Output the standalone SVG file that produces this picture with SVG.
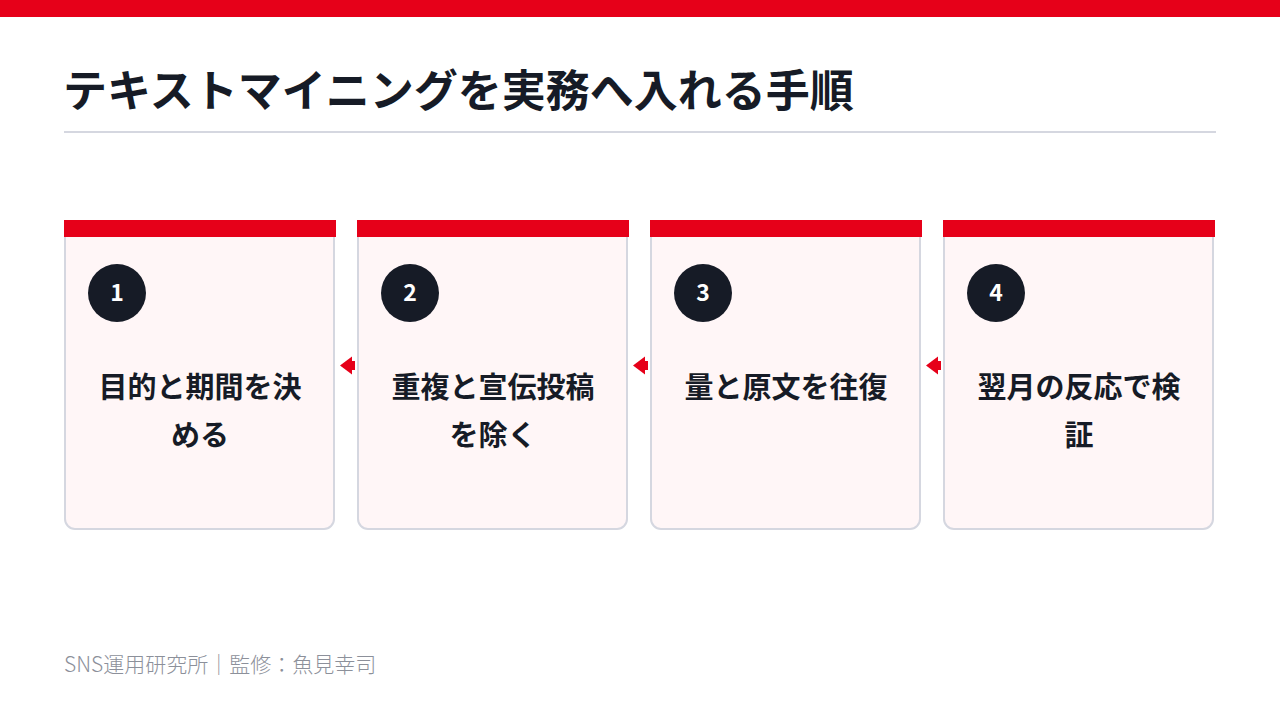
<svg xmlns="http://www.w3.org/2000/svg" width="1280" height="720" viewBox="0 0 1280 720">
<style>
.jp{font-family:"Noto Sans CJK JP","Noto Sans",sans-serif}
.title{font-size:44px;font-weight:700;fill:#161b26}
.card{fill:#fff6f7;stroke:#d5d7e0;stroke-width:2}
.bar{fill:#e60019}
.num{fill:#161b26}
.numt{font-size:23px;font-weight:700;fill:#ffffff;text-anchor:middle}
.lbl{font-size:29px;font-weight:700;fill:#161b26;text-anchor:middle}
.foot{font-size:21px;font-weight:300;fill:#8c909a}
.arr{fill:#e60019}
</style>
<rect x="0" y="0" width="1280" height="17" fill="#e60019"/>
<text class="jp title" x="63" y="88" dominant-baseline="central">テキストマイニングを実務へ入れる手順</text>
<rect x="64" y="131" width="1152" height="2" fill="#d5d7e0"/>
<g id="step1">
<path class="card" d="M65,221 H334 V519 A10,10 0 0 1 324,529 H75 A10,10 0 0 1 65,519 Z"/>
<rect class="bar" x="64" y="220" width="272" height="17"/>
<circle class="num" cx="117" cy="293" r="29"/>
<text class="jp numt" x="117" y="291" dominant-baseline="central">1</text>
<text class="jp lbl" x="200" y="385" dominant-baseline="central">目的と期間を決</text>
<text class="jp lbl" x="200" y="433" dominant-baseline="central">める</text>
</g>
<g id="step2">
<path class="card" d="M358,221 H627 V519 A10,10 0 0 1 617,529 H368 A10,10 0 0 1 358,519 Z"/>
<rect class="bar" x="357" y="220" width="272" height="17"/>
<circle class="num" cx="410" cy="293" r="29"/>
<text class="jp numt" x="410" y="291" dominant-baseline="central">2</text>
<text class="jp lbl" x="493" y="385" dominant-baseline="central">重複と宣伝投稿</text>
<text class="jp lbl" x="493" y="433" dominant-baseline="central">を除く</text>
</g>
<g id="step3">
<path class="card" d="M651,221 H920 V519 A10,10 0 0 1 910,529 H661 A10,10 0 0 1 651,519 Z"/>
<rect class="bar" x="650" y="220" width="272" height="17"/>
<circle class="num" cx="703" cy="293" r="29"/>
<text class="jp numt" x="703" y="291" dominant-baseline="central">3</text>
<text class="jp lbl" x="786" y="385" dominant-baseline="central">量と原文を往復</text>
</g>
<g id="step4">
<path class="card" d="M944,221 H1213 V519 A10,10 0 0 1 1203,529 H954 A10,10 0 0 1 944,519 Z"/>
<rect class="bar" x="943" y="220" width="272" height="17"/>
<circle class="num" cx="996" cy="293" r="29"/>
<text class="jp numt" x="996" y="291" dominant-baseline="central">4</text>
<text class="jp lbl" x="1079" y="385" dominant-baseline="central">翌月の反応で検</text>
<text class="jp lbl" x="1079" y="433" dominant-baseline="central">証</text>
</g>
<g id="connectors">
<polygon class="arr" points="340,365.5 352,356.5 352,374.5"/>
<rect class="arr" x="351" y="361" width="4" height="9"/>
<polygon class="arr" points="633,365.5 645,356.5 645,374.5"/>
<rect class="arr" x="644" y="361" width="4" height="9"/>
<polygon class="arr" points="926,365.5 938,356.5 938,374.5"/>
<rect class="arr" x="937" y="361" width="4" height="9"/>
</g>
<text class="jp foot" x="64" y="663" dominant-baseline="central">SNS運用研究所｜監修：魚見幸司</text>
</svg>
